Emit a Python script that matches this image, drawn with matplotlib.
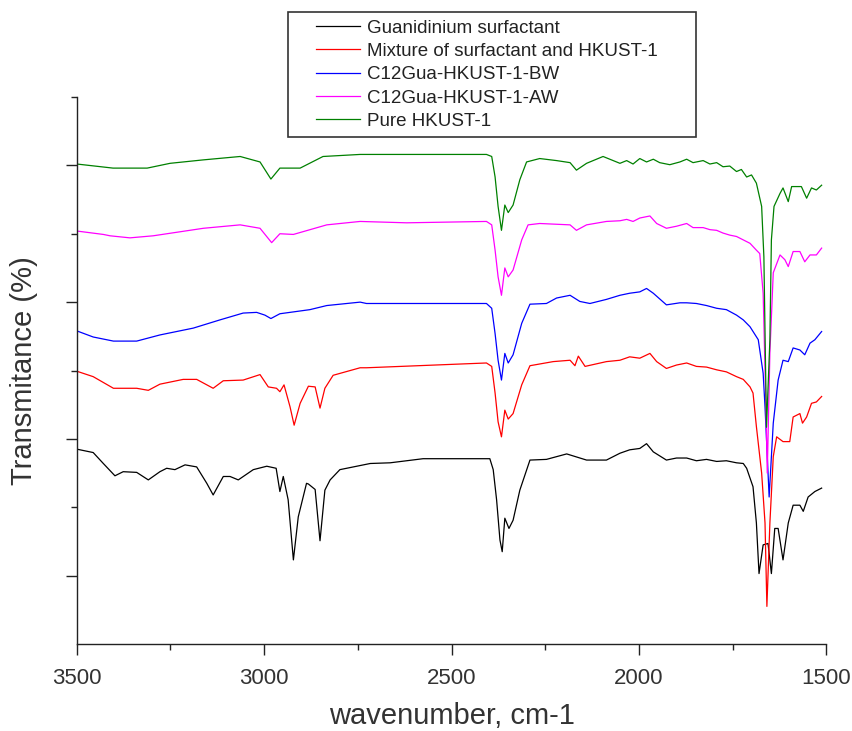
import matplotlib.pyplot as plt
from matplotlib.legend_handler import HandlerLine2D

# wavenumber (cm-1) and offset transmittance values
wn_green = [3500, 3403, 3312, 3251, 3163, 3064, 3011, 2982, 2958, 2904, 2843, 2744,
            2593, 2407, 2393, 2384, 2376, 2367, 2358, 2349, 2336, 2318, 2300, 2265,
            2220, 2184, 2167, 2140, 2096, 2051, 2033, 2016, 1998, 1980, 1962, 1945,
            1918, 1891, 1873, 1856, 1829, 1811, 1793, 1776, 1758, 1740, 1727, 1713,
            1700, 1687, 1673, 1667, 1663, 1660, 1651, 1647, 1640, 1624, 1616, 1602,
            1593, 1567, 1553, 1540, 1527, 1513]
t_green = [70.2, 69.6, 69.6, 70.3, 70.8, 71.3, 70.5, 68.0, 69.6, 69.6, 71.3, 71.6,
           71.6, 71.6, 71.3, 68.3, 64.0, 60.5, 64.2, 63.1, 64.2, 67.9, 70.5, 71.0,
           70.7, 70.4, 69.3, 70.3, 71.3, 70.3, 70.7, 70.2, 71.0, 70.5, 70.9, 70.4,
           70.1, 70.5, 70.9, 70.4, 70.7, 70.2, 70.4, 69.8, 69.9, 69.1, 69.4, 68.3,
           68.6, 67.4, 64.0, 56.6, 42.0, 31.7, 44.5, 59.1, 64.0, 65.9, 66.7, 64.7,
           66.9, 66.9, 65.2, 66.7, 66.4, 67.1]

wn_magenta = [3500, 3429, 3411, 3358, 3296, 3162, 3064, 3011, 2980, 2958, 2922, 2833,
              2744, 2620, 2407, 2393, 2384, 2376, 2367, 2358, 2349, 2336, 2313, 2296,
              2265, 2184, 2167, 2140, 2087, 2051, 2033, 2016, 1998, 1971, 1953, 1927,
              1900, 1873, 1856, 1829, 1811, 1793, 1776, 1758, 1740, 1722, 1704, 1687,
              1678, 1669, 1662, 1658, 1651, 1642, 1624, 1611, 1602, 1589, 1571, 1558,
              1544, 1527, 1513]
t_magenta = [60.4, 59.9, 59.7, 59.4, 59.7, 60.8, 61.3, 60.8, 58.7, 60.0, 59.9, 61.3,
             61.8, 61.6, 61.8, 61.3, 57.6, 53.7, 51.0, 55.0, 53.7, 54.7, 59.1, 61.3,
             61.5, 61.3, 60.5, 61.3, 61.8, 61.9, 62.1, 61.8, 62.3, 62.6, 61.5, 60.8,
             61.1, 61.5, 60.9, 60.9, 60.6, 60.5, 60.1, 59.8, 59.6, 59.1, 58.6, 57.6,
             57.1, 51.3, 35.7, 25.0, 42.6, 54.3, 56.9, 56.2, 55.2, 57.4, 57.4, 55.9,
             56.9, 56.9, 57.9]

wn_blue = [3500, 3456, 3402, 3340, 3278, 3189, 3118, 3056, 3020, 2998, 2982, 2958,
           2878, 2833, 2744, 2727, 2407, 2393, 2384, 2376, 2367, 2358, 2349, 2336,
           2313, 2291, 2247, 2220, 2184, 2158, 2131, 2087, 2051, 2025, 1998, 1980,
           1962, 1927, 1891, 1873, 1847, 1820, 1793, 1767, 1740, 1722, 1704, 1682,
           1669, 1664, 1653, 1642, 1629, 1616, 1602, 1589, 1571, 1558, 1544, 1531,
           1513]
t_blue = [45.8, 44.9, 44.3, 44.3, 45.2, 46.2, 47.4, 48.4, 48.5, 48.1, 47.6, 48.3,
          48.9, 49.5, 50.0, 49.8, 49.8, 49.1, 45.4, 41.5, 38.6, 42.5, 41.1, 42.3,
          46.9, 49.7, 49.8, 50.6, 51.0, 50.1, 49.8, 50.4, 51.0, 51.3, 51.5, 52.0,
          51.3, 49.6, 49.9, 49.9, 49.8, 49.5, 49.1, 48.9, 48.1, 47.4, 46.4, 44.5,
          39.6, 34.7, 21.5, 32.3, 38.6, 41.5, 41.3, 43.3, 43.0, 42.3, 44.0, 44.5,
          45.7]

wn_red = [3500, 3456, 3402, 3340, 3309, 3278, 3216, 3180, 3136, 3109, 3056, 3011,
          2989, 2967, 2958, 2947, 2931, 2920, 2904, 2882, 2864, 2851, 2838, 2816,
          2744, 2727, 2407, 2393, 2384, 2376, 2367, 2358, 2349, 2336, 2313, 2291,
          2229, 2184, 2171, 2162, 2144, 2087, 2051, 2025, 1998, 1971, 1953, 1927,
          1900, 1873, 1847, 1820, 1793, 1767, 1740, 1722, 1704, 1696, 1687, 1673,
          1664, 1659, 1651, 1642, 1633, 1616, 1598, 1589, 1571, 1564, 1553, 1540,
          1527, 1513]
t_red = [39.9, 39.1, 37.4, 37.4, 37.1, 38.0, 38.7, 38.7, 37.4, 38.5, 38.6, 39.4,
         37.6, 37.4, 36.9, 37.9, 34.7, 32.0, 35.2, 37.7, 37.6, 34.5, 37.4, 39.3,
         40.4, 40.4, 41.1, 40.6, 36.7, 32.5, 30.3, 34.2, 32.9, 33.7, 37.9, 40.7,
         41.3, 41.5, 40.7, 42.1, 40.6, 41.3, 41.5, 42.0, 41.8, 42.5, 41.3, 40.3,
         40.8, 41.1, 40.6, 40.5, 40.1, 39.8, 39.1, 38.7, 37.6, 36.7, 31.8, 25.0,
         17.7, 5.5, 17.7, 27.4, 30.3, 29.6, 29.6, 33.2, 33.7, 32.3, 33.2, 35.2,
         35.4, 36.2]

wn_black = [3500, 3456, 3429, 3398, 3376, 3340, 3309, 3278, 3260, 3238, 3211, 3180,
            3153, 3136, 3109, 3091, 3069, 3029, 2993, 2968, 2958, 2949, 2936, 2922,
            2909, 2887, 2882, 2864, 2851, 2838, 2824, 2798, 2717, 2664, 2576, 2398,
            2389, 2380, 2371, 2365, 2358, 2347, 2336, 2318, 2291, 2247, 2193, 2140,
            2087, 2051, 2025, 1998, 1980, 1962, 1927, 1900, 1873, 1847, 1820, 1793,
            1767, 1740, 1722, 1713, 1696, 1687, 1680, 1669, 1656, 1647, 1638, 1629,
            1616, 1602, 1589, 1571, 1562, 1549, 1531, 1513]
t_black = [28.5, 28.0, 26.4, 24.6, 25.2, 25.1, 24.0, 25.2, 25.7, 25.5, 26.2, 25.9,
           23.5, 21.8, 24.5, 24.5, 24.0, 25.5, 26.0, 25.7, 22.3, 24.5, 21.1, 12.3,
           18.6, 23.5, 23.4, 22.6, 15.1, 22.5, 24.0, 25.5, 26.4, 26.5, 27.1, 27.1,
           25.5, 21.1, 15.2, 13.5, 18.4, 16.9, 18.1, 22.5, 26.9, 27.0, 27.8, 26.9,
           26.9, 27.9, 28.4, 28.6, 29.3, 28.1, 26.9, 27.2, 27.2, 26.8, 27.0, 26.7,
           26.8, 26.5, 26.4, 25.7, 23.0, 17.7, 10.3, 14.5, 14.7, 10.3, 16.9, 16.9,
           12.3, 17.7, 20.3, 20.3, 19.4, 21.5, 22.3, 22.8]

labels = ['Guanidinium surfactant', 'Mixture of surfactant and HKUST-1',
          'C12Gua-HKUST-1-BW', 'C12Gua-HKUST-1-AW', 'Pure HKUST-1']

plt.rcParams['font.family'] = ['Liberation Sans', 'DejaVu Sans']

fig = plt.figure(figsize=(8.53, 7.31), dpi=100)
ax = fig.add_axes([76.7 / 853, 1 - 644 / 731, (826.5 - 76.7) / 853, (644 - 97) / 731])

series = [(wn_black, t_black, '#000000'), (wn_red, t_red, '#ff0000'),
          (wn_blue, t_blue, '#0000ff'), (wn_magenta, t_magenta, '#ff00ff'),
          (wn_green, t_green, '#008000')]
for (x, y, c), lab in zip(series, labels):
    ax.plot(x, y, color=c, linewidth=0.9, label=lab)

ax.set_xlim(3500, 1500)
ax.set_ylim(0, 80)
ax.set_xticks([3500, 3000, 2500, 2000, 1500])
ax.set_xticks([3250, 2750, 2250, 1750], minor=True)
ax.set_yticks([10, 30, 50, 70])
ax.set_yticks([20, 40, 60, 80], minor=True)
ax.set_yticklabels([])
ax.tick_params(which='major', length=8, width=1, direction='out', colors='#222222',
               labelsize=16, labelcolor='#333333', pad=9)
ax.tick_params(which='minor', length=4.5, width=1, direction='out', colors='#222222')
for s in ['top', 'right']:
    ax.spines[s].set_visible(False)
for s in ['left', 'bottom']:
    ax.spines[s].set_color('#222222')
    ax.spines[s].set_linewidth(1)

ax.set_xlabel('wavenumber, cm-1', fontsize=21, color='#333333', labelpad=10)
ax.set_ylabel('Transmitance (%)', fontsize=21, color='#333333', labelpad=11)

fig.legend(loc='upper left', bbox_to_anchor=(288 / 853, 1 - 140 / 731, 408 / 853, 128 / 731),
           mode='expand', borderaxespad=0, fontsize=13.5, frameon=True, fancybox=False,
           edgecolor='#000000', borderpad=0.4, labelspacing=0.33, handlelength=3.44,
           handletextpad=0.37, handler_map={plt.Line2D: HandlerLine2D(xpad=1.09)})
leg = fig.legends[0]
leg.get_frame().set_linewidth(1.2)
for t in leg.get_texts():
    t.set_color('#222222')

fig.savefig('out.png', dpi=100)
